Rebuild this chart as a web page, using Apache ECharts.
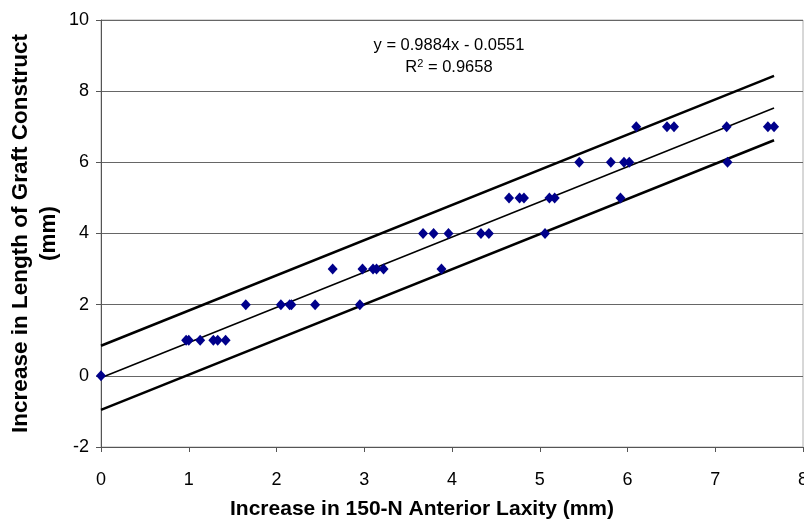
<!DOCTYPE html>
<html>
<head>
<meta charset="utf-8">
<script src="https://cdn.jsdelivr.net/npm/echarts@6/dist/echarts.min.js"></script>
<style>
  html, body { margin: 0; padding: 0; background: #fff; }
  #chart { width: 804px; height: 519px; }
</style>
</head>
<body>
<div id="chart"></div>
<script>
// Measured points: laxity increase (x) vs graft length increase (y)
const laxity = [
  0,
  0.97, 1.00, 1.13, 1.28, 1.33, 1.42,
  1.65, 2.05, 2.15, 2.17, 2.44, 2.95,
  2.64, 2.98, 3.10, 3.14, 3.22, 3.88,
  3.67, 3.79, 3.96, 4.33, 4.42, 5.06,
  4.65, 4.77, 4.82, 5.11, 5.17, 5.92,
  5.45, 5.81, 5.96, 6.02, 7.14,
  6.10, 6.45, 6.53, 7.13, 7.60, 7.67
];
const lengthIncrease = [
  0,
  1, 1, 1, 1, 1, 1,
  2, 2, 2, 2, 2, 2,
  3, 3, 3, 3, 3, 3,
  4, 4, 4, 4, 4, 4,
  5, 5, 5, 5, 5, 5,
  6, 6, 6, 6, 6,
  7, 7, 7, 7, 7, 7
];

// Trend line and band end points
const lineX = [0, 7.67];
const fitY = [-0.055, 7.525];
const upperY = [0.845, 8.43];
const lowerY = [-0.955, 6.62];

const xTicks = [0, 8, 1];
const yTicks = [-2, 10, 2];

const chartDom = document.getElementById("chart");
const myChart = echarts.init(chartDom);

const points = laxity.map((x, i) => [x, lengthIncrease[i]]);
const pairs = (ys) => lineX.map((x, i) => [x, ys[i]]);

const lineSeries = (ys, width) => ({
  type: "line",
  data: pairs(ys),
  symbol: "none",
  lineStyle: { color: "#000", width: width },
  silent: true,
  z: 2,
});

const option = {
  backgroundColor: "#fff",
  animation: false,
  textStyle: { fontFamily: "Liberation Sans, Arial, sans-serif" },
  grid: {
    left: 101,
    right: 1,
    top: 20,
    bottom: 72,
    outerBoundsMode: "none",
    containLabel: false,
    show: true,
    borderColor: "#b0b0b0",
    borderWidth: 1,
  },
  xAxis: {
    type: "value",
    min: xTicks[0],
    max: xTicks[1],
    interval: xTicks[2],
    name: "Increase in 150-N Anterior Laxity (mm)",
    nameLocation: "middle",
    nameGap: 52,
    nameTextStyle: {
      fontFamily: "Liberation Sans Narrow, Arial Narrow, sans-serif",
      fontWeight: "bold",
      fontSize: 21,
      color: "#000",
      padding: [0, 60, 0, 0],
    },
    axisLine: { onZero: false, lineStyle: { color: "#555", width: 1 } },
    axisTick: { show: true, length: 5, lineStyle: { color: "#555" } },
    axisLabel: {
      margin: 24,
      fontFamily: "Liberation Sans Narrow, Arial Narrow, sans-serif",
      fontSize: 18,
      color: "#000",
    },
    splitLine: { show: false },
  },
  yAxis: {
    type: "value",
    min: yTicks[0],
    max: yTicks[1],
    interval: yTicks[2],
    name: "Increase in Length of Graft Construct\n(mm)",
    nameLocation: "middle",
    nameGap: 38,
    nameMoveOverlap: false,
    nameTextStyle: {
      fontWeight: "bold",
      fontSize: 22.5,
      lineHeight: 28,
      color: "#000",
    },
    axisLine: { onZero: false, lineStyle: { color: "#555", width: 1 } },
    axisTick: { show: true, length: 5, lineStyle: { color: "#555" } },
    axisLabel: { margin: 12, fontSize: 18, color: "#000" },
    splitLine: { show: true, lineStyle: { color: "#666", width: 1 } },
  },
  graphic: [
    {
      type: "text",
      x: 449,
      y: 37,
      style: {
        text: "y = 0.9884x - 0.0551",
        align: "center",
        textAlign: "center",
        font: "16.5px Liberation Sans, Arial, sans-serif",
        fill: "#000",
      },
    },
    {
      type: "text",
      x: 449,
      y: 58,
      style: {
        text: "{n|R}{s|2}{n| = 0.9658}",
        align: "center",
        textAlign: "center",
        rich: {
          n: { fontSize: 16.5, fontFamily: "Liberation Sans, Arial, sans-serif", color: "#000" },
          s: { fontSize: 11, fontFamily: "Liberation Sans, Arial, sans-serif", color: "#000", verticalAlign: "top", padding: [0, 0, 8, 0] },
        },
      },
    },
  ],
  series: [
    lineSeries(upperY, 2.5),
    lineSeries(fitY, 1.5),
    lineSeries(lowerY, 2.5),
    {
      type: "scatter",
      data: points,
      symbol: "diamond",
      symbolSize: [10, 11],
      itemStyle: { color: "#00008b", opacity: 1 },
      z: 3,
    },
  ],
};

myChart.setOption(option);
</script>
</body>
</html>
